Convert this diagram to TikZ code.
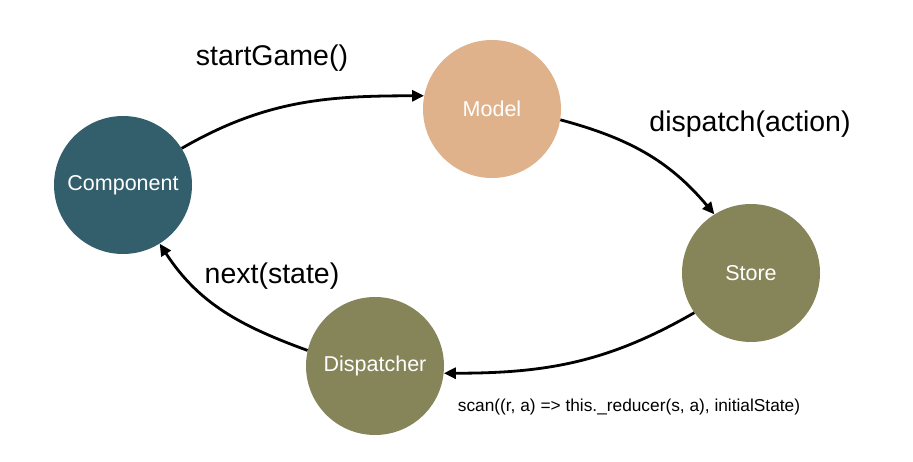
\documentclass[tikz,border=0pt]{standalone}
\usepackage{fontspec}
\setmainfont{Liberation Sans}
\usetikzlibrary{arrows.meta}
\definecolor{teal1}{HTML}{335E6B}
\definecolor{peach}{HTML}{DFB28B}
\definecolor{olive1}{HTML}{86855A}
\begin{document}
\begin{tikzpicture}[x=1pt,y=-1pt,
  state/.style={circle,minimum size=138pt,inner sep=0pt,text=white,font=\fontsize{21.5}{25}\selectfont},
  flow/.style={line width=2.8pt,-{Triangle[length=12pt,width=11pt]}},
  lbl/.style={font=\fontsize{28.5}{33}\selectfont,text=black,inner sep=0pt},
  small/.style={font=\fontsize{17.3}{20}\selectfont,text=black,inner sep=0pt}]
\useasboundingbox (0,0) rectangle (913,462);
\node[state,fill=teal1] (comp) at (123,185) {Component};
\node[state,fill=peach] (model) at (492,109) {Model};
\node[state,fill=olive1] (store) at (751,273) {Store};
\node[state,fill=olive1] (disp) at (375,366) {Dispatcher};
\draw[flow] (comp.32) to[out=30,in=180] (model.169);
\draw[flow] (model.-9) to[out=-15,in=130] (store.122);
\draw[flow] (store.-145) to[out=210,in=0] (disp.-6);
\draw[flow] (disp.167) to[out=160,in=-57] (comp.-58);
\node[lbl] (l1) at (272,58) {startGame()};
\node[lbl] (l2) at (750,124) {dispatch(action)};
\node[lbl] (l3) at (272,276) {next(state)};
\node[small] (l4) at (629,407) {scan((r, a) => this.\_reducer(s, a), initialState)};
\end{tikzpicture}
\end{document}
